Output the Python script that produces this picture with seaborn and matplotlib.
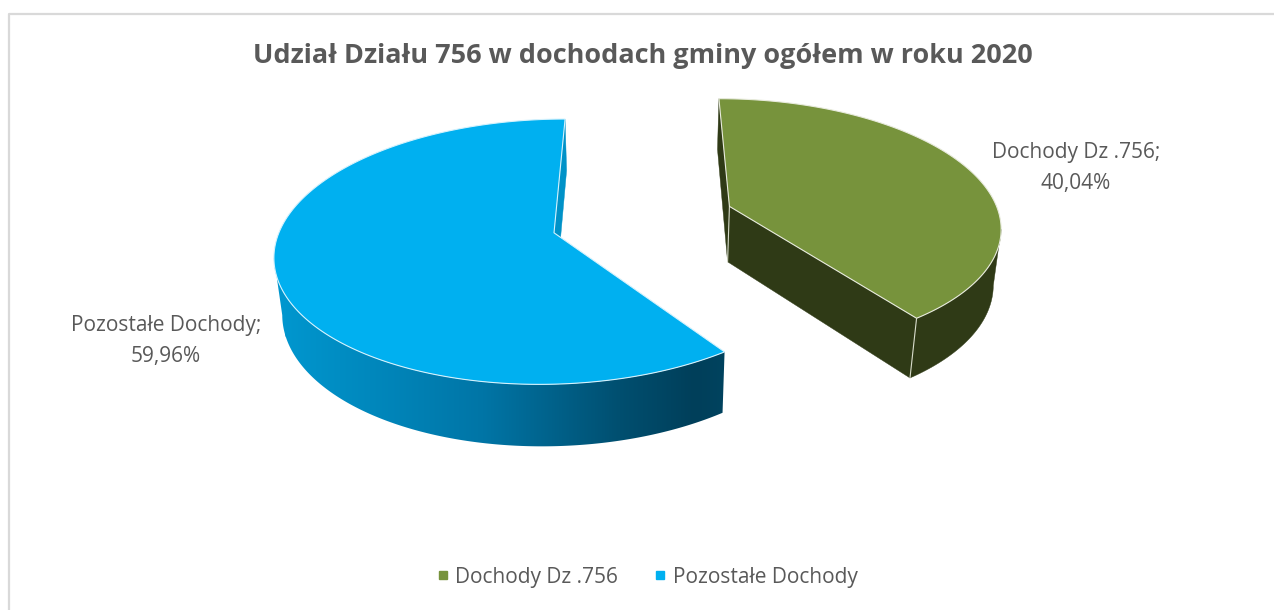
import numpy as np
import matplotlib
matplotlib.use("Agg")
import matplotlib.pyplot as plt
from matplotlib.colors import LinearSegmentedColormap
from matplotlib.lines import Line2D
from matplotlib.patches import Polygon
import seaborn as sns

title = "Udział Działu 756 w dochodach gminy ogółem w roku 2020"
categories = ["Dochody Dz .756", "Pozostałe Dochody"]
shares = [40.04, 59.96]
share_labels = ["40,04%", "59,96%"]

GREEN = "#77933C"
GREEN_SIDE = "#2F3A16"
BLUE = "#00B0F0"
BLUE_SIDE = "#0092C8"
TEXT = "#595959"
FONT = ["Open Sans", "DejaVu Sans"]

# camera for the 3D pie, worked out from where the edges converge
VX, HORIZON = 643, -680
FX, FY = 1932, 6410
DEPTH = 7.127
EXPLODE = 0.34
VERT_Y = 2800
THICK = 2.41e-5

sns.set_theme(style="white")
plt.rcParams["font.family"] = FONT


def project(x, y):
    d = DEPTH + y
    return VX + FX * x / d, HORIZON + FY / d


def drop(px, py):
    # same point on the underside of the pie
    t = THICK * (py - HORIZON)
    return px + t * (VX - px), py + t * (VERT_Y - py)


def slice_points(start, end):
    mid = np.radians((start + end) / 2)
    cx, cy = EXPLODE * np.sin(mid), EXPLODE * np.cos(mid)
    ang = np.radians(np.linspace(start, end, 361))
    ax_, ay_ = project(cx + np.sin(ang), cy + np.cos(ang))
    apex = project(cx, cy)
    return apex, ax_, ay_


def wall(ax, p1, p2, color, zorder):
    b1, b2 = drop(*p1), drop(*p2)
    ax.add_patch(Polygon([p1, p2, b2, b1], fc=color, ec=color, lw=0.3, zorder=zorder))


fig, ax = plt.subplots(figsize=(12.74, 6.10), dpi=100)
fig.subplots_adjust(0, 0, 1, 1)
ax.axis("off")

# chart border: only the left and top edges are in the picture
ax.plot([9, 9, 1274], [610, 14, 14], color="#D9D9D9", lw=1.6, zorder=1)

green_deg = shares[0] / sum(shares) * 360

# green slice
apex, gx, gy = slice_points(0, green_deg)
wall(ax, (gx[0], gy[0]), apex, GREEN_SIDE, 2)
wall(ax, apex, (gx[-1], gy[-1]), GREEN_SIDE, 2)
k = np.argmax(gx)
bx, by = drop(gx, gy)
ax.fill(np.r_[gx[k:], bx[k:][::-1]], np.r_[gy[k:], by[k:][::-1]], fc=GREEN_SIDE, ec=GREEN_SIDE, lw=0.3, zorder=2)
for p in (apex, (gx[-1], gy[-1])):
    ax.plot([p[0], drop(*p)[0]], [p[1], drop(*p)[1]], color="#D8DCCB", lw=0.8, zorder=3)
ax.add_patch(Polygon(np.c_[np.r_[apex[0], gx], np.r_[apex[1], gy]], fc=GREEN, ec="#E8EBDD", lw=0.8, zorder=4))

# blue slice, the outer wall has a left to right gradient
apex, ux, uy = slice_points(green_deg, 360)
wall(ax, (ux[-1], uy[-1]), apex, BLUE_SIDE, 3)
cmap = LinearSegmentedColormap.from_list(
    "side", [(0, "#0096CE"), (0.45, "#0075A6"), (0.76, "#004F70"), (0.93, "#003F5A"), (1, "#00435F")]
)
k = np.argmin(ux)
lx, ly = drop(ux, uy)
side = Polygon(np.c_[np.r_[ux[:k + 1], lx[:k + 1][::-1]], np.r_[uy[:k + 1], ly[:k + 1][::-1]]],
               fc="none", ec="none", transform=ax.transData)
ax.add_patch(side)
grad = ax.imshow(np.linspace(0, 1, 256).reshape(1, -1), cmap=cmap, aspect="auto",
                 extent=(285, 726, 460, 240), zorder=2)
grad.set_clip_path(side)
# gradient stops at its extent, the left strip past x=285 takes the first colour
left_strip = ax.imshow(np.zeros((1, 2)), cmap=cmap, vmin=0, vmax=1, aspect="auto",
                       extent=(265, 285.5, 460, 240), zorder=2)
left_strip.set_clip_path(side)
ax.add_patch(Polygon(np.c_[np.r_[apex[0], ux], np.r_[apex[1], uy]], fc=BLUE, ec="#D5F2FD", lw=0.8, zorder=4))

ax.set_xlim(0, 1274)
ax.set_ylim(610, 0)

ax.text(642.5, 56, title, ha="center", va="center", fontsize=19.45, fontweight="bold", color=TEXT)
ax.text(1076, 168, f"{categories[0]};\n{share_labels[0]}", ha="center", va="center",
        fontsize=15, color=TEXT, linespacing=1.66)
ax.text(166, 341, f"{categories[1]};\n{share_labels[1]}", ha="center", va="center",
        fontsize=15, color=TEXT, linespacing=1.66)

handles = [Line2D([], [], ls="", marker="s", ms=5.6, color=c) for c in (GREEN, BLUE)]
ax.legend(handles, categories, loc="center", bbox_to_anchor=(644, 577), bbox_transform=ax.transData,
          ncol=2, frameon=False, fontsize=15, labelcolor=TEXT, handletextpad=0.0,
          columnspacing=1.42, handlelength=1.2, borderpad=0, borderaxespad=0)

fig.savefig("out.png", dpi=100)
